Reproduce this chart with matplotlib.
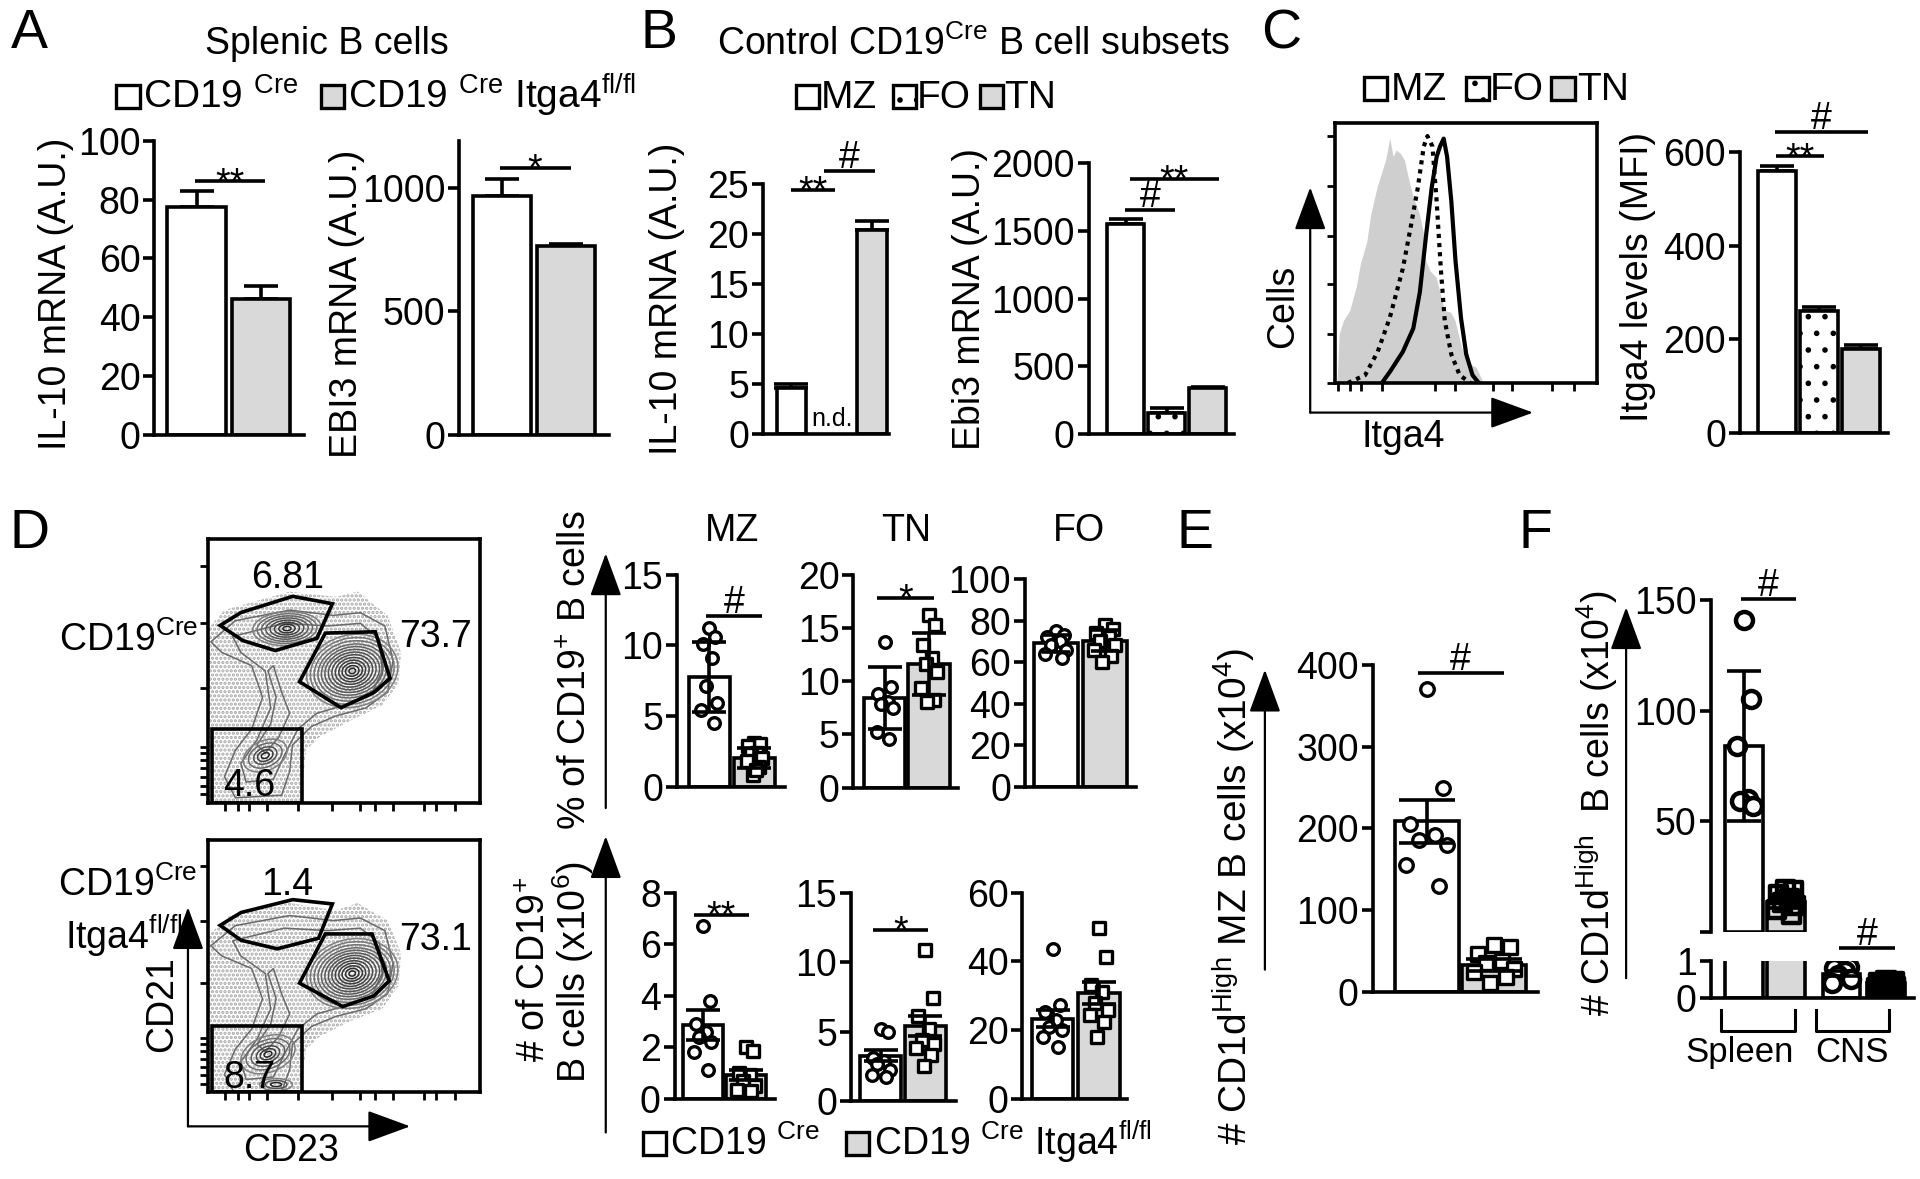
import numpy as np
import matplotlib
matplotlib.use("Agg")
import matplotlib.pyplot as plt
from matplotlib.patches import Rectangle, Ellipse, Polygon

plt.rcParams["font.family"] = ["Liberation Sans", "DejaVu Sans"]
plt.rcParams["mathtext.fontset"] = "custom"
plt.rcParams["mathtext.rm"] = "Liberation Sans"
plt.rcParams["mathtext.it"] = "Liberation Sans:italic"
plt.rcParams["mathtext.bf"] = "Liberation Sans:bold"
plt.rcParams["hatch.linewidth"] = 1.6

# ---------------- data ----------------
# A  splenic B cells: CD19Cre vs CD19Cre Itga4fl/fl
a_il10 = [77.3, 46.0]
a_il10_err = [5.7, 4.7]
a_ebi3 = [969, 764]
a_ebi3_err = [67, 8]

# B  control subsets MZ, FO, TN (IL-10 in FO not detected)
b_subsets = ["MZ", "FO", "TN"]
b_il10 = [4.6, np.nan, 20.4]
b_il10_err = [0.4, 0.0, 0.9]
b_ebi3 = [1552, 153, 340]
b_ebi3_err = [37, 39, 10]

# C  Itga4 MFI per subset
c_mfi = [560, 261, 178]
c_mfi_err = [10, 7, 10]
# C histogram outlines (x: % of axis, y: % of max)
hist_tn_x = [0, 1.1, 1.9, 3.5, 5.9, 8.4, 10, 12.4, 14, 16.4, 18, 19.6, 21.2, 22.5, 23.6, 25.2, 26.8,
             28.5, 30.1, 32.5, 34.1, 34.9, 36.5, 38.9, 40.5, 42.1, 44.5, 46.1, 48.6, 51.8, 54.2, 56.6, 57]
hist_tn_y = [0, 0.6, 18.7, 23.8, 27.7, 36.7, 45.7, 54, 65, 75.3, 80.4, 85.6, 94, 86.9, 89.4, 88.2, 85.6,
             77.9, 71.4, 65, 57.3, 47, 43.1, 40.5, 34.1, 27.7, 27, 23.8, 13.5, 7.1, 5.8, 0.6, 0]
hist_fo_x = [5, 11.6, 16.4, 21, 26, 29, 31.7, 34, 35.4, 37.3, 38.9, 40.5, 42, 44.5, 47.7, 51.8]
hist_fo_y = [0, 3, 12, 25, 44, 60, 75, 91, 95, 91, 70, 44, 24, 11, 3, 0]
hist_mz_x = [18, 21.2, 26, 30, 32.5, 34.9, 37, 38.9, 40.2, 41.6, 42.9, 44.5, 46.1, 48.2, 50.2, 52.6, 55]
hist_mz_y = [0, 4.5, 12, 21, 35, 57, 75, 87, 91, 94, 87, 70, 47, 25, 11, 3, 0]

# D  flow gate frequencies (MZ, FO, TN gates)
flow_top_nums = ["6.81", "73.7", "4.6"]
flow_bot_nums = ["1.4", "73.1", "8.7"]
# D  % of CD19+ B cells (individual mice) and bar means / SD
d_pct_mz = [[11.2, 10.6, 10.1, 9.1, 7.1, 5.9, 5.4, 4.5], [3.1, 3.05, 2.9, 2.4, 2.3, 2.0, 1.8, 1.4, 0.8, 1.2]]
d_pct_mz_bar, d_pct_mz_err = [7.75, 2.0], [2.5, 0.7]
d_pct_tn = [[13.7, 9.5, 8.8, 8.0, 7.9, 7.5, 5.2, 4.6], [16.2, 15.3, 13.4, 12.2, 11.6, 10.9, 9.4, 8.2, 8.0]]
d_pct_tn_bar, d_pct_tn_err = [8.4, 11.6], [2.9, 2.9]
d_pct_fo = [[75, 73, 72, 70, 68, 66, 64, 62], [78, 76, 74, 72, 70, 68, 66, 63, 60]]
d_pct_fo_bar, d_pct_fo_err = [69.1, 70.4], [4, 5]
# D  number of CD19+ B cells (x10^6)
d_num_mz = [[6.7, 3.8, 2.9, 2.6, 2.4, 2.2, 1.8, 1.1], [2.0, 1.85, 1.0, 0.9, 0.7, 0.5, 0.35, 0.3]]
d_num_mz_bar, d_num_mz_err = [2.85, 0.91], [0.58, 0.2]
d_num_tn = [[5.2, 5.0, 3.1, 2.9, 2.7, 2.2, 1.9, 1.7], [10.9, 7.4, 6.1, 5.2, 4.4, 4.1, 3.8, 3.3, 2.5]]
d_num_tn_bar, d_num_tn_err = [3.27, 5.4], [0.4, 0.7]
d_num_fo = [[43.7, 27.2, 25.2, 23, 21, 20, 18, 15], [49.7, 41.4, 33, 31, 28, 25.7, 24.5, 22.3, 18]]
d_num_fo_bar, d_num_fo_err = [23.3, 30.8], [2.5, 3.2]

# E  CD1dHigh MZ B cells (x10^4)
e_pts = [[370, 249, 205, 192, 185, 179, 155, 129], [57, 55, 46, 38, 35, 28, 24, 18, 11]]
e_bar, e_err = [208.5, 32.7], [26, 7]

# F  CD1dHigh B cells (x10^4), spleen and CNS
f_spleen = [[141, 105, 84, 60, 59, 57], [19, 18.5, 17, 15, 13, 12, 10, 8]]
f_spleen_bar, f_spleen_err = [83.9, 13.5], [34, 3]
f_cns = [[0.91, 0.85, 0.8, 0.74, 0.62, 0.51, 0.4], [0.45, 0.42, 0.4, 0.38, 0.35, 0.3, 0.28, 0.22]]
f_cns_bar, f_cns_err = [0.66, 0.4], [0.06, 0.05]
f_tissues = ["Spleen", "CNS"]

# ---------------- layout helpers (coords on a 1568 x 963 grid) ----------------
W, H = 1568, 963
GRAY = "#d9d9d9"
LW = 2.6
FS = 27
YL = 27
JIT = [0.0, 0.8, -0.8, 0.4, -0.4, 1.0, -1.0, 0.6, -0.2, 0.2]

fig = plt.figure(figsize=(19.2, 11.79), dpi=100)
ov = fig.add_axes([0, 0, 1, 1])
ov.set_xlim(0, W)
ov.set_ylim(H, 0)
ov.axis("off")


def make_ax(left, right, bottom, top):
    return fig.add_axes([left / W, 1 - bottom / H, (right - left) / W, (bottom - top) / H])


def style(ax, xlim, ylim, yticks, labels=None):
    ax.set_xlim(*xlim)
    ax.set_ylim(*ylim)
    ax.set_yticks(yticks)
    if labels is not None:
        ax.set_yticklabels(labels)
    ax.set_xticks([])
    for s in ["top", "right"]:
        ax.spines[s].set_visible(False)
    for s in ["left", "bottom"]:
        ax.spines[s].set_linewidth(LW)
    ax.tick_params(axis="y", direction="out", length=8, width=LW, labelsize=FS, pad=2)
    ax.patch.set_alpha(0)


def sig(ax, x0, x1, y, label):
    ax.plot([x0, x1], [y, y], color="k", lw=LW, clip_on=False, solid_capstyle="butt")
    dy = -9 if "*" in label else 2
    ax.annotate(label, xy=((x0 + x1) / 2, y), xytext=(0, dy), textcoords="offset points",
                ha="center", va="baseline", fontsize=FS, annotation_clip=False)


def plain_bars(ax, vals, errs, faces, hatches, width=0.9):
    pos = np.arange(len(vals))
    for p, v, e, f, h in zip(pos, vals, errs, faces, hatches):
        if np.isnan(v):
            continue
        ax.errorbar([p], [v], yerr=[[0], [e]], fmt="none", ecolor="k", elinewidth=LW,
                    capsize=12, capthick=LW, zorder=1)
        ax.bar(p, v, width, color=f, edgecolor="k", linewidth=LW, hatch=h, zorder=2)


def dot_bars(ax, pts, means, errs, markers, spread, size, cap, pos=(0, 1), width=0.9,
             faces=("white", GRAY), mfaces=("white", "white"), mlw=2.4, clip=False):
    for p, m, f in zip(pos, means, faces):
        ax.bar(p, m, width, color=f, edgecolor="k", linewidth=LW, zorder=1)
    for p, vals, mk, mf in zip(pos, pts, markers, mfaces):
        offs = np.array([JIT[i % len(JIT)] for i in range(len(vals))]) * spread
        ax.scatter(p + offs, vals, s=size, marker=mk, facecolors=mf, edgecolors="k",
                   linewidths=mlw, zorder=3, clip_on=clip)
    ax.errorbar(list(pos), means, yerr=errs, fmt="none", ecolor="k", elinewidth=LW,
                capsize=cap, capthick=LW, zorder=4)


def arrow(x0, y0, x1, y1):
    ov.annotate("", xy=(x1, y1), xytext=(x0, y0),
                arrowprops=dict(arrowstyle="-|>,head_length=1.5,head_width=0.55", mutation_scale=18,
                                lw=1.6, color="k", shrinkA=0, shrinkB=0))


def legend_row(items, y, fs=28, size=19):
    for bx, face, hatch, tx, txt in items:
        ov.add_patch(Rectangle((bx, y - size / 2), size, size, facecolor=face, edgecolor="k",
                               lw=2.4, hatch=hatch))
        ov.text(tx, y + size / 2, txt, fontsize=fs, ha="left", va="baseline")


# ---------------- panel letters ----------------
for letter, x, y in [("A", 24, 28), ("B", 538, 28), ("C", 1046, 28),
                     ("D", 24, 436), ("E", 976, 436), ("F", 1254, 436)]:
    ov.text(x, y, letter, fontsize=40, ha="center", va="center")

# ---------------- A ----------------
ov.text(267, 36, "Splenic B cells", fontsize=27, ha="center", va="center")
legend_row([(95, "white", None, 117, "CD19 $^{\\rm Cre}$"),
            (262, GRAY, None, 284, "CD19 $^{\\rm Cre}$ Itga4$^{\\rm fl/fl}$")], 79)

axA1 = make_ax(126, 248, 355, 115)
plain_bars(axA1, a_il10, a_il10_err, ["white", GRAY], [None, None], width=0.91)
style(axA1, (-0.66, 1.67), (0, 100), [0, 20, 40, 60, 80, 100])
sig(axA1, -0.02, 1.07, 86.2, "**")
ov.text(46, 240, "IL-10 mRNA (A.U.)", fontsize=YL, rotation=90, ha="center", va="center")

axA2 = make_ax(375, 497, 355, 115)
plain_bars(axA2, a_ebi3, a_ebi3_err, ["white", GRAY], [None, None], width=0.9)
style(axA2, (-0.66, 1.66), (0, 1193), [0, 500, 1000])
sig(axA2, -0.03, 1.07, 1084, "*")
ov.text(283, 248, "EBI3 mRNA (A.U.)", fontsize=YL, rotation=90, ha="center", va="center")

# ---------------- B ----------------
ov.text(795, 36, "Control CD19$^{\\rm Cre}$ B cell subsets", fontsize=27, ha="center", va="center")
legend_row([(650, "white", None, 670, "MZ"), (729, "white", ".", 749, "FO"),
            (800, GRAY, None, 820, "TN")], 79)

axB1 = make_ax(623, 726, 354.5, 150.3)
plain_bars(axB1, b_il10, b_il10_err, ["white", "white", GRAY], [None, ".", None], width=0.73)
style(axB1, (-0.71, 2.42), (0, 25), [0, 5, 10, 15, 20, 25])
axB1.text(1, 0.3, "n.d.", fontsize=18, ha="center", va="bottom")
sig(axB1, -0.02, 1.08, 24.4, "**")
sig(axB1, 0.81, 2.07, 26.3, "#")
ov.text(545, 244, "IL-10 mRNA (A.U.)", fontsize=YL, rotation=90, ha="center", va="center")

axB2 = make_ax(889, 1008, 354.5, 133.3)
plain_bars(axB2, b_ebi3, b_ebi3_err, ["white", "white", GRAY], [None, ".", None], width=0.9)
style(axB2, (-0.91, 2.65), (0, 2000), [0, 500, 1000, 1500, 2000])
sig(axB2, -0.03, 1.21, 1658, "#")
sig(axB2, 0.09, 2.27, 1884, "**")
ov.text(792, 244, "Ebi3 mRNA (A.U.)", fontsize=YL, rotation=90, ha="center", va="center")

# ---------------- C ----------------
legend_row([(1114, "white", None, 1136, "MZ"), (1197, "white", ".", 1217, "FO"),
            (1267, GRAY, None, 1288, "TN")], 72)

axH = make_ax(1090, 1304, 312.8, 100.5)
axH.fill(hist_tn_x, hist_tn_y, color="#cfcfcf", lw=0, zorder=1)
axH.plot(hist_fo_x, hist_fo_y, color="k", lw=3, ls=(0, (1, 1.2)), zorder=2)
axH.plot(hist_mz_x, hist_mz_y, color="k", lw=3, zorder=3)
axH.set_xlim(0, 100)
axH.set_ylim(0, 100)
axH.set_yticks([0, 18.7, 38, 56.6, 75.9, 95.2])
axH.set_xticks([1.1, 5.9, 10, 18, 38.1, 46.1, 60.6, 67.8, 83.1, 91.2])
axH.set_xticklabels([])
axH.set_yticklabels([])
axH.tick_params(direction="out", length=6, width=2)
for s in axH.spines.values():
    s.set_linewidth(LW)
arrow(1070, 337, 1070, 153)
arrow(1070, 337, 1252, 337)
ov.text(1048, 250, "Cells", fontsize=YL, rotation=90, ha="center", va="center")
ov.text(1146, 357, "Itga4", fontsize=YL, ha="center", va="center")

axC = make_ax(1421, 1542, 353.3, 124.3)
plain_bars(axC, c_mfi, c_mfi_err, ["white", "white", GRAY], [None, ".", None], width=0.9)
style(axC, (-0.87, 2.65), (0, 600), [0, 200, 400, 600])
sig(axC, -0.02, 1.13, 591, "**")
sig(axC, -0.05, 2.18, 644, "#")
ov.text(1338, 226, "Itga4 levels (MFI)", fontsize=YL, rotation=90, ha="center", va="center")

# ---------------- D flow plots ----------------
mz_gate_top = [(4.4, 67.2), (12.1, 72.1), (31.1, 78.2), (45.7, 75.4), (40.0, 62.3), (24.7, 57.7), (12.7, 61.5)]
fo_gate_top = [(33.6, 45.9), (43.1, 64.3), (61.5, 64.8), (66.9, 47.2), (60.9, 41.8), (48.9, 36.1)]
mz_gate_bot = [(4.4, 66.1), (12.1, 71.2), (31.1, 76.3), (45.7, 74.6), (40.6, 61.0), (25.4, 56.8), (12.1, 60.2)]
fo_gate_bot = [(33.6, 43.2), (43.1, 62.7), (60.3, 62.7), (66.6, 44.1), (60.9, 38.1), (49.5, 33.9)]
cloud_top = [(0, 66), (6, 73), (30, 80), (47, 78), (55, 80), (66, 71), (71, 57), (70, 45), (64, 37),
             (52, 31), (41, 25), (36, 20), (35, 10), (34, 0), (0, 0)]
cloud_bot = [(0, 62), (8, 70), (30, 75), (47, 72), (55, 75), (66, 68), (71, 55), (70, 42), (64, 33),
             (52, 28), (41, 22), (36, 17), (35, 8), (34, 0), (0, 0)]
fo_rings = [(1.2, 1), (2.5, 2), (3.8, 3), (5, 4), (6.3, 5), (7.6, 6), (8.9, 7), (10.2, 8), (11.5, 9),
            (12.8, 10), (14.2, 11.2), (15.6, 12.4), (17, 13.6)]
mz_rings = [(1.5, 0.8), (3, 1.6), (4.6, 2.4), (6.2, 3.2), (7.8, 4), (9.4, 4.8), (11, 5.6), (12.6, 6.4)]
tn_rings = [(1.5, 1), (3, 2), (4.5, 3), (6.5, 4.3), (8.5, 5.6)]
tn_rings_big = [(1.5, 1), (3, 2), (4.5, 3), (6.5, 4.3), (8.5, 5.6), (10.5, 7)]
stream_top = [
    [(1, 61), (10, 69), (30, 73), (46, 71), (56, 72), (65, 67), (68, 54), (66, 42), (58, 36), (47, 33),
     (38, 29), (31, 22), (30, 12), (27, 3), (10, 2), (6, 10), (10, 20), (16, 28), (20, 40), (16, 52), (5, 57)],
    [(9, 63), (28, 68), (44, 67), (56, 68), (63, 62), (64, 50), (60, 41), (50, 37), (40, 34), (33, 28),
     (28, 18), (24, 9), (14, 8), (12, 15), (18, 24), (23, 36), (21, 50), (12, 57)],
    [(24, 52), (27, 42), (30, 34), (26, 25), (21, 19), (18, 22), (23, 30), (25, 40), (22, 50)]]
stream_bot = [[(x, y - 3) for x, y in ring] for ring in stream_top]


def flow_plot(ax, cloud, rings, streams, gates, nums, num_pos):
    ax.set_xlim(0, 100)
    ax.set_ylim(0, 100)
    ax.add_patch(Polygon(cloud, closed=True, fill=False, lw=0, hatch="....", edgecolor="#a8a8a8", zorder=0))
    for ring in streams:
        ax.add_patch(Polygon(ring, closed=True, fill=False, lw=1.1, edgecolor="#6a6a6a", zorder=1))
    for cx, cy, ang, radii in rings:
        shades = np.linspace(0.15, 0.5, len(radii))
        for (rx, ry), sh in zip(radii, shades):
            ax.add_patch(Ellipse((cx, cy), 2 * rx, 2 * ry, angle=ang, fill=False, lw=1.1,
                                 edgecolor=str(sh), zorder=2))
    mz, fo, tn = gates
    ax.add_patch(Polygon(mz, closed=True, fill=False, lw=LW, edgecolor="k", zorder=4))
    ax.add_patch(Polygon(fo, closed=True, fill=False, lw=LW, edgecolor="k", zorder=4))
    ax.add_patch(Rectangle(tn[0], tn[1], tn[2], fill=False, lw=LW, edgecolor="k", zorder=4))
    for (x, y), s in zip(num_pos, nums):
        ax.text(x, y, s, fontsize=27, ha="center", va="center", zorder=5)
    ax.set_yticks([21.3, 43.4, 68, 89.8])
    ax.set_yticks([3.3, 6.6, 9.8, 13.1, 16.4, 18.9], minor=True)
    ax.set_xticks([6.3, 10.8, 15.2, 21.6, 33, 45.7, 55.8, 61.5, 67.9, 79.3, 83.8, 90.7])
    ax.set_xticklabels([])
    ax.set_yticklabels([])
    ax.tick_params(which="both", direction="out", length=6, width=2)
    for s in ax.spines.values():
        s.set_linewidth(LW)


axF1 = make_ax(170, 392, 656, 440)
flow_plot(axF1, cloud_top,
          [(53, 50, 15, fo_rings), (29, 66, 3, mz_rings), (21, 18, 25, tn_rings)],
          stream_top, [mz_gate_top, fo_gate_top, ((1.3, 0), 33.3, 28.2)], flow_top_nums,
          [(29.2, 85), (83.6, 63), (15.2, 6.5)])
axF2 = make_ax(170, 392, 892, 686)
flow_plot(axF2, cloud_bot,
          [(53, 47, 15, fo_rings), (22, 15, 25, tn_rings_big), (25, 3, 0, [(2, 0.8), (4, 1.6), (6, 2.4)])],
          stream_bot, [mz_gate_bot, fo_gate_bot, ((1.3, 0), 33.3, 26.3)], flow_bot_nums,
          [(29.2, 82), (83.6, 60.4), (15.2, 5.5)])

ov.text(105, 523, "CD19$^{\\rm Cre}$", fontsize=27, ha="center", va="center")
ov.text(104, 723, "CD19$^{\\rm Cre}$", fontsize=27, ha="center", va="center")
ov.text(101, 764, "Itga4$^{\\rm fl/fl}$", fontsize=27, ha="center", va="center")
arrow(153.5, 920, 153.5, 741)
arrow(153.5, 920, 335, 920)
ov.text(132, 820, "CD21", fontsize=27, rotation=90, ha="center", va="center")
ov.text(238, 940, "CD23", fontsize=27, ha="center", va="center")

# ---------------- D bar charts ----------------
for t, x in [("MZ", 598), ("TN", 740), ("FO", 881)]:
    ov.text(x, 434, t, fontsize=27, ha="center", va="center")

ax = make_ax(553, 641, 642.5, 469.5)
dot_bars(ax, d_pct_mz, d_pct_mz_bar, d_pct_mz_err, ["o", "s"], 0.17, 70, 12, width=0.91)
style(ax, (-0.71, 1.68), (0, 15), [0, 5, 10, 15])
sig(ax, -0.07, 1.17, 12.1, "#")

ax = make_ax(697, 782, 643.3, 469.5)
dot_bars(ax, d_pct_tn, d_pct_tn_bar, d_pct_tn_err, ["o", "s"], 0.18, 70, 12, width=0.93)
style(ax, (-0.70, 1.64), (0, 20), [0, 5, 10, 15, 20])
sig(ax, -0.16, 1.10, 17.8, "*")

ax = make_ax(837, 928, 642.5, 473)
dot_bars(ax, d_pct_fo, d_pct_fo_bar, d_pct_fo_err, ["o", "s"], 0.22, 70, 10, width=0.9)
style(ax, (-0.63, 1.65), (0, 100), [0, 20, 40, 60, 80, 100])

ax = make_ax(551, 633, 897.3, 729.2)
dot_bars(ax, d_num_mz, d_num_mz_bar, d_num_mz_err, ["o", "s"], 0.2, 70, 12, width=0.93)
style(ax, (-0.65, 1.67), (0, 8), [0, 2, 4, 6, 8])
sig(ax, -0.2, 1.06, 7.13, "**")

ax = make_ax(695, 781, 899.3, 729.2)
dot_bars(ax, d_num_tn, d_num_tn_bar, d_num_tn_err, ["o", "s"], 0.2, 70, 12, width=0.93)
style(ax, (-0.66, 1.69), (0, 15), [0, 5, 10, 15])
sig(ax, -0.17, 1.05, 12.3, "*")

ax = make_ax(835, 920, 897.3, 729.2)
dot_bars(ax, d_num_fo, d_num_fo_bar, d_num_fo_err, ["o", "s"], 0.2, 70, 12, width=0.9)
style(ax, (-0.65, 1.6), (0, 60), [0, 20, 40, 60])

arrow(494.7, 660, 494.7, 452)
arrow(494.7, 925, 494.7, 683)
ov.text(470, 547, "% of CD19$^{+}$ B cells", fontsize=YL, rotation=90, ha="center", va="center")
ov.text(437, 792, "# of CD19$^{+}$", fontsize=YL, rotation=90, ha="center", va="center")
ov.text(468, 794, "B cells (x10$^{6}$)", fontsize=YL, rotation=90, ha="center", va="center")
legend_row([(525, "white", None, 547, "CD19 $^{\\rm Cre}$"),
            (691, GRAY, None, 714, "CD19 $^{\\rm Cre}$ Itga4$^{\\rm fl/fl}$")], 934, fs=27)

# ---------------- E ----------------
axE = make_ax(1121, 1256, 810, 543)
dot_bars(axE, e_pts, e_bar, e_err, ["o", "s"], 0.3, 95, 20, width=0.95)
style(axE, (-0.8, 1.65), (0, 400), [0, 100, 200, 300, 400])
sig(axE, -0.13, 1.14, 390.4, "#")
arrow(1033, 792, 1033, 547)
ov.text(1008, 732, "# CD1d$^{\\rm High}$ MZ B cells (x10$^{4}$)", fontsize=28, rotation=90,
        ha="center", va="center")

# ---------------- F (broken axis) ----------------
f_pos = [0, 1, 2.33, 3.4]
f_pts = f_spleen + f_cns
f_bars = f_spleen_bar + f_cns_bar
f_errs = f_spleen_err + f_cns_err
f_faces = ["white", GRAY, "white", GRAY]
f_mfaces = ["white", "none", "white", "k"]
f_marks = ["o", "s", "o", "s"]

axFt = make_ax(1397, 1563, 761, 490)
axFb = make_ax(1397, 1563, 815, 785)
dot_bars(axFt, f_spleen, f_spleen_bar, f_spleen_err, f_marks[:2], 0.22, 150, 12, pos=f_pos[:2],
         width=0.9, faces=f_faces[:2], mfaces=f_mfaces[:2], mlw=3.2, clip=True)
dot_bars(axFb, f_pts, f_bars, f_errs, f_marks, 0.22, 150, 12, pos=f_pos, width=0.9,
         faces=f_faces, mfaces=f_mfaces, mlw=3.2, clip=True)
style(axFt, (-0.8, 4.06), (0, 150), [0, 50, 100, 150], ["", "50", "100", "150"])
axFt.spines["bottom"].set_visible(False)
style(axFb, (-0.8, 4.06), (0, 1), [0, 1])
sig(axFt, -0.08, 1.25, 150.4, "#")
sig(axFb, 2.28, 3.61, 1.36, "#")
for (x0, x1), tx, name in zip([(-0.54, 1.22), (1.71, 3.46)], [-0.1, 2.585], f_tissues):
    axFb.plot([x0, x0, x1, x1], [-0.32, -0.9, -0.9, -0.32], color="k", lw=2.2, clip_on=False)
    axFb.text(tx, -1.5, name, fontsize=25, ha="center", va="center", clip_on=False)
arrow(1328, 799, 1328, 496)
ov.text(1304, 656, "# CD1d$^{\\rm High}$  B cells (x10$^{4}$)", fontsize=YL, rotation=90,
        ha="center", va="center")

fig.savefig("out.png", dpi=100)
